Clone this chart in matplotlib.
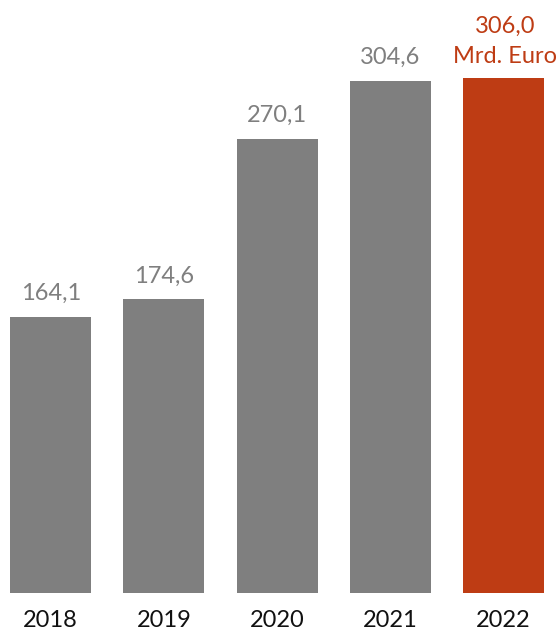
import matplotlib
matplotlib.use("Agg")
import matplotlib.pyplot as plt

years = ["2018", "2019", "2020", "2021", "2022"]
values = [164.1, 174.6, 270.1, 304.6, 306.0]
value_labels = ["164,1", "174,6", "270,1", "304,6", "306,0"]
unit_label = "Mrd. Euro"

grey = "#7F7F7F"
red = "#BE3C14"

plt.rcParams['font.family'] = ['Lato', 'DejaVu Sans']

fig = plt.figure(figsize=(5.6, 6.35), dpi=100)
ax = fig.add_axes([0, 42 / 635, 1, 593 / 635])
colors = [grey] * (len(years) - 1) + [red]
xs = list(range(len(years)))
ax.bar(xs, values, width=0.716, color=colors)
ax.set_xlim(-0.448, 4.499)
ax.set_ylim(0, 352.6)
ax.axis('off')

px = 72 / 100  # points per pixel
fs = 17
for i, (v, lab) in enumerate(zip(values, value_labels)):
    if i == len(values) - 1:
        ax.annotate(unit_label, (i, v), xytext=(1, 15 * px), textcoords='offset points',
                    ha='center', va='baseline', fontsize=fs, color=red)
        ax.annotate(lab, (i, v), xytext=(1, 46 * px), textcoords='offset points',
                    ha='center', va='baseline', fontsize=fs, color=red)
    else:
        ax.annotate(lab, (i, v), xytext=(0, 17 * px), textcoords='offset points',
                    ha='center', va='baseline', fontsize=fs, color=grey)
    ax.annotate(years[i], (i, 0), xycoords=('data', 'figure pixels'),
                xytext=(0, 4 * px), textcoords='offset points',
                ha='center', va='bottom', fontsize=fs, color='#111111')

fig.savefig("out.png", dpi=100)
